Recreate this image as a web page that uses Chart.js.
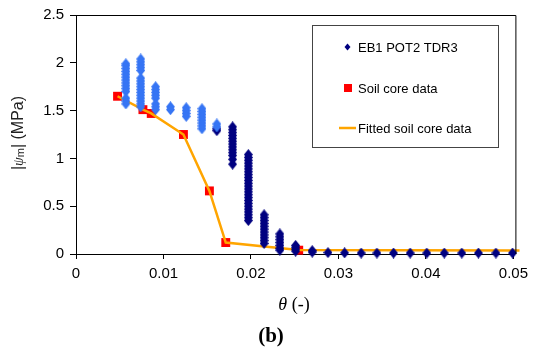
<!DOCTYPE html>
<html>
<head>
<meta charset="utf-8">
<script src="https://cdn.jsdelivr.net/npm/chart.js@4"></script>
<style>
  html, body { margin: 0; padding: 0; background: #fff; }
  #wrap { width: 534px; height: 353px; position: relative; }
</style>
</head>
<body>
<div id="wrap"><canvas id="myChart" width="534" height="353"></canvas></div>
<script>
// theta columns and the |psi_m| readings stacked in each column
const blueTheta = [0.0057, 0.0074, 0.0091, 0.0108, 0.0126, 0.0144, 0.0161];
const bluePsi = [
    [1.99, 1.97, 1.94, 1.91, 1.88, 1.85, 1.82, 1.79, 1.76, 1.73, 1.70, 1.63, 1.60, 1.57],
    [2.04, 2.01, 1.98, 1.95, 1.92, 1.84, 1.81, 1.78, 1.75, 1.72, 1.69, 1.66, 1.63, 1.60, 1.57, 1.54],
    [1.75, 1.72, 1.69, 1.66, 1.63, 1.57, 1.54, 1.51],
    [1.54, 1.51],
    [1.53, 1.50, 1.47, 1.44],
    [1.52, 1.49, 1.46, 1.43, 1.40, 1.37, 1.34, 1.31],
    [1.36, 1.33]
];
const navyTheta = [0.0161, 0.0179, 0.0197, 0.0215, 0.0233, 0.0251, 0.0270, 0.0288, 0.0307, 0.0326,
    0.0344, 0.0363, 0.0382, 0.0401, 0.0421, 0.0441, 0.0460, 0.0480, 0.0499];
const navyPsi = [
    [1.31, 1.29],
    [1.33, 1.30, 1.27, 1.24, 1.21, 1.18, 1.15, 1.12, 1.09, 1.06, 1.03, 0.99, 0.94],
    [1.04, 1.01, 0.98, 0.95, 0.92, 0.89, 0.86, 0.83, 0.80, 0.77, 0.74, 0.71, 0.68, 0.65, 0.62, 0.59,
        0.56, 0.53, 0.50, 0.47, 0.44, 0.41, 0.38, 0.35],
    [0.41, 0.38, 0.35, 0.32, 0.29, 0.26, 0.23, 0.20, 0.17, 0.14, 0.11],
    [0.21, 0.18, 0.15, 0.12, 0.09, 0.06, 0.04],
    [0.09, 0.07, 0.05, 0.03],
    [0.035, 0.02],
    [0.015], [0.012], [0.01], [0.01], [0.01], [0.01], [0.01], [0.01], [0.01], [0.01], [0.01], [0.01]
];
const coreTheta = [0.00475, 0.00765, 0.0086, 0.01228, 0.01525, 0.01712, 0.02546];
const corePsi = [1.65, 1.51, 1.47, 1.25, 0.66, 0.12, 0.04];
const fitTheta = [0.00475, 0.00765, 0.0086, 0.01228, 0.01525, 0.01712, 0.02546, 0.0507];
const fitPsi = [1.65, 1.51, 1.47, 1.25, 0.66, 0.12, 0.042, 0.036];

const xTicks = [0, 0.01, 0.02, 0.03, 0.04, 0.05];
const yTicks = [0, 0.5, 1, 1.5, 2, 2.5];

function columns(thetas, psis) {
    const pts = [];
    thetas.forEach((t, i) => psis[i].forEach(p => pts.push({ x: t, y: p })));
    return pts;
}
function pairs(xs, ys) {
    return xs.map((x, i) => ({ x: x, y: ys[i] }));
}

const NAVY = '#000080';
const LIGHT = '#3675F4';
const RED = '#FF0000';
const ORANGE = '#FFA500';

// slightly tall diamond marker, like the stretched excel one
function diamond(color) {
    const cv = document.createElement('canvas');
    cv.width = 9;
    cv.height = 11;
    const g = cv.getContext('2d');
    g.fillStyle = color;
    g.beginPath();
    g.moveTo(4.5, 0);
    g.lineTo(9, 5.5);
    g.lineTo(4.5, 11);
    g.lineTo(0, 5.5);
    g.closePath();
    g.fill();
    return cv;
}

// frame, legend box, axis titles and caption
const extras = {
    id: 'extras',
    afterDraw(chart) {
        const c = chart.ctx;
        const a = chart.chartArea;
        c.save();
        c.strokeStyle = '#000';
        c.lineWidth = 1;
        c.beginPath();
        c.moveTo(a.left, a.top + 0.5);
        c.lineTo(a.right + 2.5, a.top + 0.5);
        c.lineTo(a.right + 2.5, a.bottom);
        c.stroke();

        // legend
        c.strokeStyle = '#444';
        c.strokeRect(312.5, 25.5, 186, 122);
        c.font = '13px "Liberation Sans", Arial, sans-serif';
        c.fillStyle = '#000';
        c.textBaseline = 'middle';
        c.textAlign = 'left';
        const labels = chart.data.datasets.filter(d => d.legend !== false);
        const rows = [47, 88, 128];
        labels.forEach((d, i) => {
            const y = rows[i];
            if (d.showLine) {
                c.strokeStyle = d.borderColor;
                c.lineWidth = 2.5;
                c.beginPath();
                c.moveTo(339, y);
                c.lineTo(356, y);
                c.stroke();
            } else if (d.pointStyle === 'rect') {
                c.fillStyle = d.pointBackgroundColor;
                c.fillRect(344, y - 4, 8, 8);
            } else {
                c.fillStyle = d.pointBackgroundColor;
                c.beginPath();
                c.moveTo(347.5, y - 3.5);
                c.lineTo(350.5, y);
                c.lineTo(347.5, y + 3.5);
                c.lineTo(344.5, y);
                c.closePath();
                c.fill();
            }
            c.fillStyle = '#000';
            c.fillText(d.label, 358, y + 1);
        });

        // y title: |psi_m| (MPa)
        c.save();
        c.translate(19, 133);
        c.rotate(-Math.PI / 2);
        c.fillStyle = '#222';
        c.textBaseline = 'middle';
        const f = '"Liberation Sans", Arial, sans-serif';
        const parts = [
            ['|', '16px ' + f, 0],
            ['ψ', 'italic 14px "Liberation Serif", serif', 0],
            ['m', '11px ' + f, 2],
            ['| (MPa)', '16px ' + f, 0]
        ];
        let w = 0;
        parts.forEach(p => { c.font = p[1]; w += c.measureText(p[0]).width; });
        let x = -w / 2;
        parts.forEach(p => {
            c.font = p[1];
            c.fillText(p[0], x, p[2]);
            x += c.measureText(p[0]).width;
        });
        c.restore();

        // x title: theta (-)
        c.fillStyle = '#000';
        c.textBaseline = 'middle';
        const t1 = 'θ', t2 = ' (-)';
        c.font = 'italic 18px "Liberation Serif", serif';
        const w1 = c.measureText(t1).width;
        c.font = '18px "Liberation Serif", serif';
        const w2 = c.measureText(t2).width;
        let xs = 294 - (w1 + w2) / 2;
        c.font = 'italic 18px "Liberation Serif", serif';
        c.fillText(t1, xs, 305);
        c.font = '18px "Liberation Serif", serif';
        c.fillText(t2, xs + w1, 305);

        // caption
        c.font = 'bold 21px "Liberation Serif", serif';
        c.textAlign = 'center';
        c.fillText('(b)', 271, 337);
        c.restore();
    }
};

const ctx = document.getElementById('myChart').getContext('2d');
const myChart = new Chart(ctx, {
    type: 'scatter',
    data: {
        datasets: [
            {
                label: 'EB1 POT2 TDR3 (wet)',
                legend: false,
                data: columns(blueTheta, bluePsi),
                pointStyle: diamond(LIGHT),
                pointBackgroundColor: LIGHT,
                clip: false
            },
            {
                label: 'EB1 POT2 TDR3',
                data: columns(navyTheta, navyPsi),
                pointStyle: diamond(NAVY),
                pointBackgroundColor: NAVY,
                clip: false
            },
            {
                label: 'Fitted soil core data',
                legend: false,
                data: pairs(fitTheta, fitPsi),
                showLine: true,
                borderColor: ORANGE,
                borderWidth: 2.5,
                pointRadius: 0,
                clip: false
            },
            {
                label: 'Soil core data',
                data: pairs(coreTheta, corePsi),
                pointStyle: 'rect',
                pointRadius: 6.3,
                pointBackgroundColor: RED,
                pointBorderColor: RED,
                pointBorderWidth: 0,
                clip: false
            },
            {
                label: 'Fitted soil core data',
                data: [],
                showLine: true,
                borderColor: ORANGE,
                pointRadius: 0
            }
        ]
    },
    options: {
        responsive: false,
        animation: false,
        events: [],
        layout: { padding: { top: 15, right: 20, left: 0, bottom: 0 } },
        plugins: {
            legend: { display: false },
            tooltip: { enabled: false }
        },
        scales: {
            x: {
                type: 'linear',
                min: 0,
                max: 0.05,
                afterFit: s => { s.height = 99; },
                afterBuildTicks: s => { s.ticks = xTicks.map(v => ({ value: v })); },
                grid: { drawOnChartArea: false, color: '#000', tickLength: 5 },
                border: { color: '#000', width: 1 },
                ticks: {
                    color: '#000',
                    padding: 6,
                    maxRotation: 0,
                    font: { size: 15, family: '"Liberation Sans", Arial, sans-serif' },
                    callback: v => String(parseFloat(v.toFixed(2)))
                }
            },
            y: {
                type: 'linear',
                min: 0,
                max: 2.5,
                afterFit: s => { s.width = 76; },
                afterBuildTicks: s => { s.ticks = yTicks.map(v => ({ value: v })); },
                grid: { drawOnChartArea: false, color: '#000', tickLength: 6 },
                border: { color: '#000', width: 1 },
                ticks: {
                    color: '#000',
                    padding: 6,
                    font: { size: 15, family: '"Liberation Sans", Arial, sans-serif' },
                    callback: v => String(parseFloat(v.toFixed(1)))
                }
            }
        }
    },
    plugins: [extras]
});
</script>
</body>
</html>
